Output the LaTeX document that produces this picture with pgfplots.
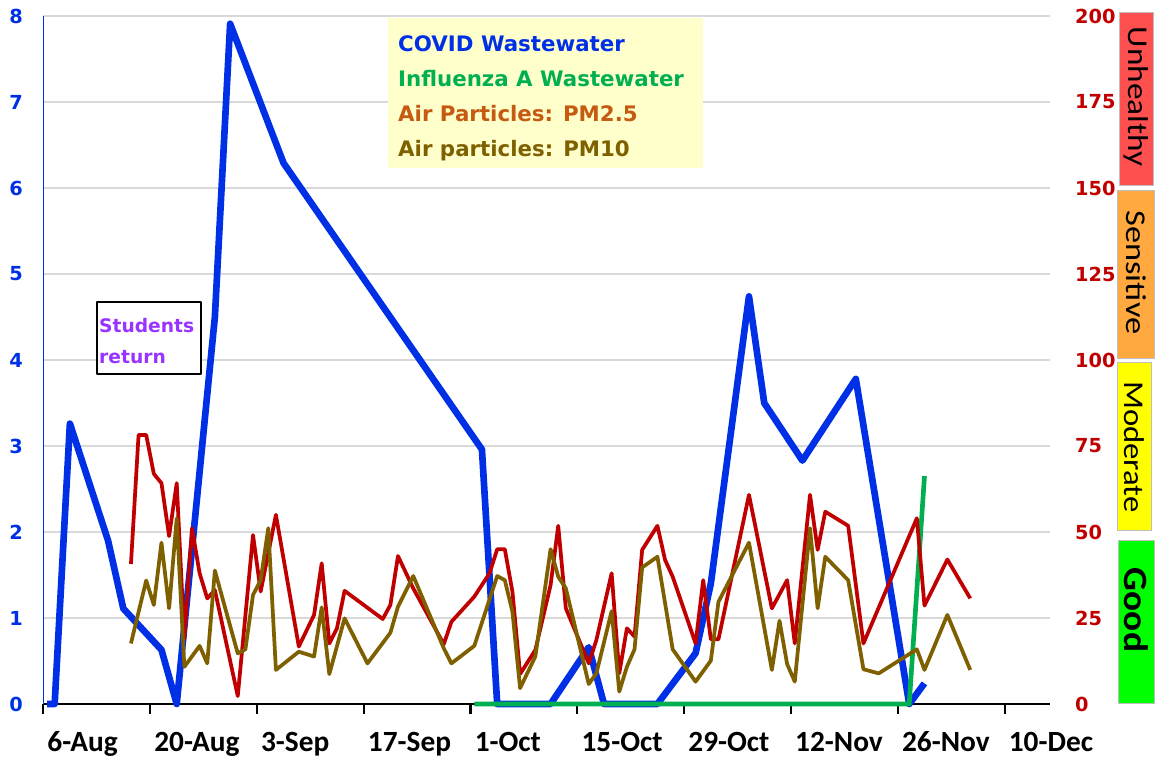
\documentclass[border=0pt]{standalone}
\usepackage{fontspec}
\setmainfont{Carlito}
\newfontfamily\dejavu{DejaVu Sans}
\usepackage{pgfplots}
\pgfplotsset{compat=1.18}

\definecolor{covblue}{RGB}{0,48,230}
\definecolor{flugreen}{RGB}{0,176,80}
\definecolor{pmred}{RGB}{192,0,0}
\definecolor{pmbrown}{RGB}{127,96,0}
\definecolor{pmorange}{RGB}{197,90,17}
\definecolor{gridgray}{RGB}{217,217,217}
\definecolor{legfill}{RGB}{255,255,204}
\definecolor{stpurple}{RGB}{153,51,255}
\definecolor{unhealthy}{RGB}{255,80,80}
\definecolor{sensitive}{RGB}{255,169,64}
\definecolor{moderate}{RGB}{255,255,0}
\definecolor{good}{RGB}{0,255,0}
\definecolor{boxgray}{RGB}{190,190,190}

% x = days since 6-Aug (0 = 6-Aug)
\pgfplotstableread{
d v
0 0
1 0
3 3.26
8 1.9
10 1.11
15 0.63
17 0
22 4.5
24 7.91
31 6.29
57 2.96
59 0
66 0
71 0.66
73 0
80 0
85 0.59
87 1.4
92 4.74
94 3.5
99 2.83
106 3.78
113 0
115 0.24
}\covid

\pgfplotstableread{
d v
56 0
113 0
115 2.65
}\flu

\pgfplotstableread{
d v
11 40.7
12 78.2
13 78.2
14 66.9
15 64.2
16 48.8
17 64.2
18 18.8
19 51.1
20 38
21 30.7
22 33.1
25 2.3
27 49.1
28 32.7
30 55
33 16.7
35 25.9
36 40.9
37 17.6
38 22
39 32.9
44 24.7
45 28.8
46 43
48 33.6
52 17.4
53 23.9
56 31.2
58 38
59 45
60 45
61 32.6
62 8.7
64 15.7
66 34.6
67 51.8
68 27.8
71 11.8
72 18.6
74 38
75 8.9
76 22
77 19.6
78 44.8
80 51.8
81 41.9
82 37
85 17.6
86 36
87 18.8
88 18.8
92 60.8
95 27.8
97 36
98 17.6
100 60.8
101 44.8
102 55.9
105 51.8
107 17.6
114 54
115 28.6
118 42
121 30.7
}\pmtwofive

\pgfplotstableread{
d v
11 17.6
13 35.9
14 28.8
15 46.9
16 27.8
17 54
18 10.8
20 16.9
21 11.8
22 38.8
23 30.7
25 14.7
26 15.9
27 31.7
28 36
29 51.1
30 9.9
33 15.2
35 13.8
36 28.1
37 8.7
39 24.9
42 11.8
45 20.7
46 28.3
48 37.2
52 16.2
53 11.8
56 16.9
59 37.2
60 36
61 26.8
62 4.6
64 13.8
66 45
67 37
68 33.6
71 5.8
72 8.9
74 27
75 3.6
76 10.8
77 15.9
78 39.7
80 42.8
82 15.9
85 6.5
87 12.6
88 29.7
92 46.9
95 9.9
96 24.2
97 11.6
98 6.5
100 51.1
101 27.8
102 42.8
105 36
107 10.1
109 8.9
114 15.9
115 9.9
118 25.9
121 9.9
}\pmten

\begin{document}
\begin{tikzpicture}
\pgfplotsset{
  common/.style={
    scale only axis, width=754.8pt, height=516pt,
    xmin=-0.5, xmax=131.4,
    clip=false, line join=round,
    /pgf/number format/assume math mode=true,
  },
}
\begin{axis}[common,
  ymin=0, ymax=8,
  axis x line*=bottom, axis y line*=left,
  x axis line style={black, line width=2.2pt},
  y axis line style={covblue, line width=1pt},
  tick align=outside,
  xtick={-0.5,13.5,27.5,41.5,55.5,69.5,83.5,97.5,111.5,125.5},
  xticklabels={6-Aug,20-Aug,3-Sep,17-Sep,1-Oct,15-Oct,29-Oct,12-Nov,26-Nov,10-Dec},
  xtick style={black, line width=1.6pt},
  major tick length=7.5pt,
  ytick={0,1,...,8},
  ytick style={draw=none},
  ymajorgrids, grid style={gridgray, line width=1pt},
  x tick label style={font=\bfseries\fontsize{22}{22}\selectfont, anchor=base west, inner sep=0pt, xshift=3pt, yshift=-28.5pt},
  y tick label style={font=\dejavu\bfseries\fontsize{14.5}{14.5}\selectfont, text=covblue, anchor=east, inner sep=0pt, xshift=-7.5pt},
]
\addplot[covblue, line width=5pt] table[x=d, y=v] {\covid};
\addplot[flugreen, line width=3.5pt] table[x=d, y=v] {\flu};
\coordinate (BL) at (rel axis cs:-0.04293,-0.0814);
\coordinate (TR) at (rel axis cs:1.10473,1.02326);
\end{axis}

\begin{axis}[common,
  ymin=0, ymax=200,
  axis x line=none, axis y line*=right,
  y axis line style={draw=none},
  ytick={0,25,...,200}, ytick style={draw=none},
  y tick label style={font=\dejavu\bfseries\fontsize{14.5}{14.5}\selectfont, text=pmred, anchor=west, inner sep=0pt, xshift=19pt},
]
\addplot[pmred, line width=2.8pt] table[x=d, y=v] {\pmtwofive};
\addplot[pmbrown, line width=2.8pt] table[x=d, y=v] {\pmten};

% legend box
\fill[legfill] (rel axis cs:0.3426,0.997) rectangle (rel axis cs:0.6556,0.7791);
\begin{scope}[every node/.style={anchor=base west, inner sep=0pt, font=\dejavu\bfseries\fontsize{16}{16}\selectfont}]
\node[text=covblue] at (rel axis cs:0.3525,0.948) {COVID Wastewater};
\node[text=flugreen] at (rel axis cs:0.3525,0.8972) {Influenza A Wastewater};
\node[text=pmorange] at (rel axis cs:0.3525,0.8464) {Air Particles: PM2.5};
\node[text=pmbrown] at (rel axis cs:0.3525,0.7955) {Air particles: PM10};
\end{scope}

% students note
\draw[black, line width=1.5pt, fill=white] (rel axis cs:0.0532,0.5847) rectangle (rel axis cs:0.1565,0.4797);
\begin{scope}[every node/.style={anchor=base west, inner sep=0pt, text=stpurple, font=\dejavu\bfseries\fontsize{14}{14}\selectfont}]
\node at (rel axis cs:0.0554,0.5397) {Students};
\node at (rel axis cs:0.0554,0.4942) {return};
\end{scope}

% air quality bands
\draw[boxgray, fill=unhealthy] (rel axis cs:1.069,1.006) rectangle (rel axis cs:1.1026,0.7545);
\draw[boxgray, fill=sensitive] (rel axis cs:1.0669,0.747) rectangle (rel axis cs:1.1038,0.503);
\draw[boxgray, fill=moderate] (rel axis cs:1.0669,0.497) rectangle (rel axis cs:1.1006,0.253);
\draw[boxgray, fill=good] (rel axis cs:1.068,0.2385) rectangle (rel axis cs:1.1038,0.0015);
\begin{scope}[every node/.style={inner sep=0pt, text=black}]
\node[rotate=-90, xscale=1.16, font=\fontsize{21.5}{21.5}\selectfont] at (rel axis cs:1.0858,0.883) {Unhealthy};
\node[rotate=-90, xscale=1.2, font=\fontsize{21.5}{21.5}\selectfont] at (rel axis cs:1.0858,0.6272) {Sensitive};
\node[rotate=-90, xscale=1.14, font=\fontsize{21.5}{21.5}\selectfont] at (rel axis cs:1.0845,0.3735) {Moderate};
\node[rotate=-90, xscale=1.1, font=\bfseries\fontsize{25.5}{25.5}\selectfont] at (rel axis cs:1.0858,0.1366) {Good};
\end{scope}
\end{axis}
\pgfresetboundingbox
\path[use as bounding box] (BL) rectangle (TR);
\end{tikzpicture}
\end{document}
